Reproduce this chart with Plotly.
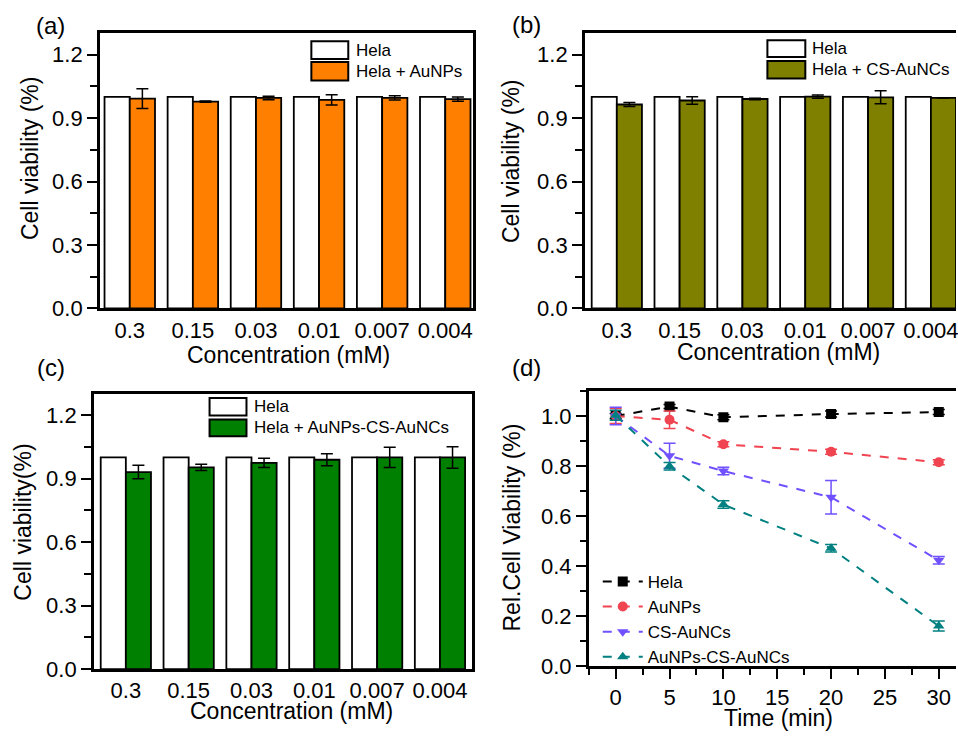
import plotly.graph_objects as go

W, H = 958, 741
FONT = "Liberation Sans, Arial, sans-serif"

# ---------------- data ----------------
concentrations = ["0.3", "0.15", "0.03", "0.01", "0.007", "0.004"]

hela_ctrl = [1.0, 1.0, 1.0, 1.0, 1.0, 1.0]

aunps_vals = [0.992, 0.978, 0.995, 0.986, 0.995, 0.989]
aunps_err = [0.047, 0.003, 0.008, 0.024, 0.010, 0.010]

csauncs_vals = [0.964, 0.983, 0.990, 1.001, 0.998, 0.995]
csauncs_err = [0.010, 0.018, 0.004, 0.008, 0.031, 0.0]

combo_vals = [0.931, 0.953, 0.974, 0.989, 1.000, 1.000]
combo_err = [0.032, 0.015, 0.022, 0.028, 0.048, 0.051]

time_min = [0, 5, 10, 20, 30]
d_hela = [1.000, 1.038, 0.995, 1.008, 1.016]
d_hela_err = [0.010, 0.008, 0.010, 0.012, 0.010]
d_aunps = [1.000, 0.985, 0.887, 0.857, 0.815]
d_aunps_err = [0.030, 0.035, 0.010, 0.010, 0.010]
d_cs = [1.000, 0.841, 0.780, 0.675, 0.423]
d_cs_err = [0.035, 0.050, 0.015, 0.067, 0.015]
d_combo = [1.003, 0.799, 0.646, 0.471, 0.160]
d_combo_err = [0.020, 0.015, 0.015, 0.015, 0.020]

# ---------------- helpers ----------------
def px_x(p):
    return p / W

def px_y(p):
    return 1 - p / H

fig = go.Figure()

bar_panels = [
    ("x", "y", aunps_vals, aunps_err, "#FF8000", "Hela + AuNPs"),
    ("x2", "y2", csauncs_vals, csauncs_err, "#808000", "Hela + CS-AuNCs"),
    ("x3", "y3", combo_vals, combo_err, "#008000", "Hela + AuNPs-CS-AuNCs"),
]

for xa, ya, vals, errs, col, lab in bar_panels:
    fig.add_trace(go.Bar(
        x=concentrations, y=hela_ctrl, xaxis=xa, yaxis=ya,
        marker=dict(color="white", line=dict(color="black", width=1.8)),
        name="Hela", showlegend=False, offsetgroup="a",
    ))
    fig.add_trace(go.Bar(
        x=concentrations, y=vals, xaxis=xa, yaxis=ya,
        marker=dict(color=col, line=dict(color="black", width=1.8)),
        error_y=dict(type="data", array=errs, color="black", thickness=1.5, width=6),
        name=lab, showlegend=False, offsetgroup="b",
    ))

line_series = [
    ("Hela", d_hela, d_hela_err, "black", "square"),
    ("AuNPs", d_aunps, d_aunps_err, "#F04450", "circle"),
    ("CS-AuNCs", d_cs, d_cs_err, "#7050FF", "triangle-down"),
    ("AuNPs-CS-AuNCs", d_combo, d_combo_err, "#008080", "triangle-up"),
]
for name, vals, errs, col, sym in line_series:
    fig.add_trace(go.Scatter(
        x=time_min, y=vals, xaxis="x4", yaxis="y4", mode="lines+markers",
        name=name,
        line=dict(color=col, width=2, dash="dash"),
        marker=dict(symbol=sym, size=10, color=col),
        error_y=dict(type="data", array=errs, color=col, thickness=1.5, width=6),
    ))

tickfont = dict(family=FONT, size=22, color="black")

def xcat(domain, rng):
    return dict(domain=domain, range=rng, type="category", showline=True, linecolor="black",
                linewidth=2.5, mirror=True, ticks="", tickfont=tickfont, showgrid=False,
                zeroline=False, fixedrange=True)

def ybar(domain, anchor):
    return dict(domain=domain, range=[0, 1.3], anchor=anchor, showline=True, linecolor="black",
                linewidth=2.5, mirror=True, ticks="outside", ticklen=10, tickwidth=2,
                tickcolor="black", tickvals=[0, 0.3, 0.6, 0.9, 1.2],
                ticktext=["0.0", "0.3", "0.6", "0.9", "1.2"], tickfont=tickfont,
                minor=dict(ticks="outside", ticklen=7, tickwidth=2, tickcolor="black", dtick=0.15),
                showgrid=False, zeroline=False)

ya_top = [px_y(314), px_y(34)]
yc = [px_y(681), px_y(401)]
yd = [px_y(678), px_y(398)]

xa = xcat([px_x(100), px_x(474)], [-0.475, 5.44]); xa["anchor"] = "y"
xb = xcat([px_x(586), 1.0], [-0.51, 5.4]); xb["anchor"] = "y2"
xc = xcat([px_x(94), px_x(473)], [-0.51, 5.51]); xc["anchor"] = "y3"

yb = ybar(ya_top, "x2"); yb["mirror"] = False

fig.update_layout(
    width=W, height=H,
    margin=dict(l=0, r=0, t=0, b=0),
    paper_bgcolor="white", plot_bgcolor="white",
    barmode="group", bargap=0.2, bargroupgap=0.0,
    font=dict(family=FONT, color="black"),
    xaxis=xa, yaxis=ybar(ya_top, "x"),
    xaxis2=xb, yaxis2=yb,
    xaxis3=xc, yaxis3=ybar(yc, "x3"),
    xaxis4=dict(domain=[px_x(590), 1.0], range=[-2.5, 31.6], anchor="y4", showline=True,
                linecolor="black", linewidth=2.5, mirror=True, ticks="outside", ticklen=10,
                tickwidth=2, tickcolor="black", tickvals=[0, 5, 10, 15, 20, 25, 30],
                tickfont=tickfont, showgrid=False, zeroline=False,
                minor=dict(ticks="outside", ticklen=6, tickwidth=2, tickcolor="black", dtick=2.5, tick0=0)),
    yaxis4=dict(domain=yd, range=[0, 1.1], anchor="x4", showline=True, linecolor="black",
                linewidth=2.5, mirror=False, ticks="outside", ticklen=10, tickwidth=2,
                tickcolor="black", tickvals=[0, 0.2, 0.4, 0.6, 0.8, 1.0],
                ticktext=["0.0", "0.2", "0.4", "0.6", "0.8", "1.0"], tickfont=tickfont,
                minor=dict(ticks="outside", ticklen=6, tickwidth=2, tickcolor="black", dtick=0.1, tick0=0),
                showgrid=False, zeroline=False),
    showlegend=True,
    legend=dict(x=px_x(599), y=px_y(574), xanchor="left", yanchor="top",
                font=dict(family=FONT, size=17, color="black"), bgcolor="rgba(0,0,0,0)",
                tracegroupgap=0, itemwidth=40),
)

# ---------------- manual bar legends ----------------
shapes = []
annotations = []
bar_legends = [
    (312, 349, 42, 60, 63, 82, 355, "#FF8000", "Hela + AuNPs"),
    (769, 807, 41, 58, 62, 80, 812, "#808000", "Hela + CS-AuNCs"),
    (210, 247, 405, 423, 427, 444, 253, "#008000", "Hela + AuNPs-CS-AuNCs"),
]
for x0, x1, a0, a1, b0, b1, tx, col, lab in bar_legends:
    for (y0, y1, fill, text) in [(a0, a1, "white", "Hela"), (b0, b1, col, lab)]:
        shapes.append(dict(type="rect", xref="paper", yref="paper",
                           x0=px_x(x0), x1=px_x(x1), y0=px_y(y1), y1=px_y(y0),
                           fillcolor=fill, line=dict(color="black", width=2)))
        annotations.append(dict(text=text, xref="paper", yref="paper", x=px_x(tx),
                                y=px_y((y0 + y1) / 2), xanchor="left", yanchor="middle",
                                showarrow=False, font=dict(family=FONT, size=17, color="black")))

# panel labels
for txt, cx, cy in [("(a)", 51, 26), ("(b)", 528, 25), ("(c)", 51, 374), ("(d)", 528, 374)]:
    annotations.append(dict(text=txt, xref="paper", yref="paper", x=px_x(cx), y=px_y(cy),
                            xanchor="center", yanchor="middle", showarrow=False,
                            font=dict(family=FONT, size=24, color="black")))

# axis titles
titles = [
    ("Cell viability (%)", 30, 161, -90),
    ("Concentration (mM)", 289, 361, 0),
    ("Cell viability (%)", 512, 164, -90),
    ("Concentration (mM)", 780, 358, 0),
    ("Cell viability(%)", 23, 531, -90),
    ("Concentration (mM)", 292, 724, 0),
    ("Rel.Cell Viability (%)", 513, 537, -90),
    ("Time (min)", 780, 731, 0),
]
for txt, cx, cy, ang in titles:
    annotations.append(dict(text=txt, xref="paper", yref="paper", x=px_x(cx), y=px_y(cy),
                            xanchor="center", yanchor="middle", showarrow=False, textangle=ang,
                            font=dict(family=FONT, size=23, color="black")))

fig.update_layout(shapes=shapes, annotations=annotations)

fig.write_html(
    "out.html",
    config={"displayModeBar": False},
    post_script=(
        "document.documentElement.style.margin='0px';"
        "document.documentElement.style.overflow='hidden';"
        "document.body.style.margin='0px';document.body.style.padding='0px';"
        "document.body.style.overflow='hidden';"
    ),
)
